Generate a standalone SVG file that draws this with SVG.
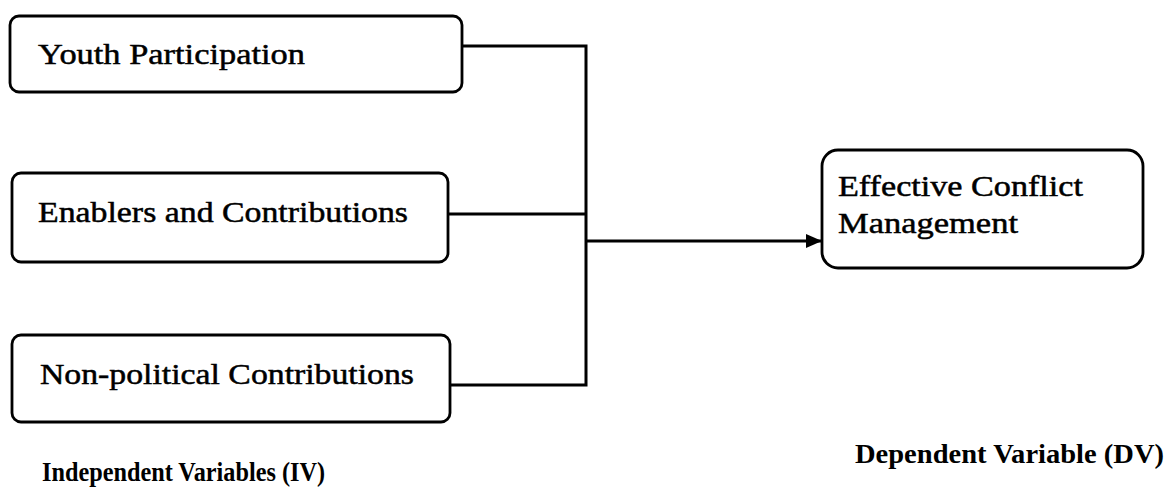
<svg xmlns="http://www.w3.org/2000/svg" width="1176" height="492" viewBox="0 0 1176 492">
<style>
.box{fill:#fff;stroke:#000;stroke-width:2.8}
.t{font-family:"Liberation Serif",serif;font-size:30px;fill:#000;stroke:#000;stroke-width:0.5}
.h{font-family:"Liberation Serif",serif;font-size:28px;font-weight:bold;fill:#000}
.c{fill:none;stroke:#000;stroke-width:3}
</style>
<defs>
<marker id="ah" markerWidth="16" markerHeight="14" refX="15" refY="7" orient="auto" markerUnits="userSpaceOnUse">
<path d="M0,0 L16,7 L0,14 z" fill="#000"/>
</marker>
</defs>
<rect width="1176" height="492" fill="#fff"/>
<g id="connectors">
<path class="c" d="M462,46 H586 M448,214 H586 M450,385 H586 M586,44.5 V386.5"/>
<path class="c" d="M586,241 H821" marker-end="url(#ah)"/>
</g>
<g id="youth">
<rect class="box" x="10" y="16" width="452" height="76" rx="9"/>
<text class="t" x="38" y="64" textLength="267" lengthAdjust="spacingAndGlyphs">Youth Participation</text>
</g>
<g id="enablers">
<rect class="box" x="12" y="173" width="436" height="89" rx="9"/>
<text class="t" x="38" y="222" textLength="370" lengthAdjust="spacingAndGlyphs">Enablers and Contributions</text>
</g>
<g id="nonpolitical">
<rect class="box" x="12" y="335" width="438" height="87" rx="9"/>
<text class="t" x="40" y="384" textLength="374" lengthAdjust="spacingAndGlyphs">Non-political Contributions</text>
</g>
<g id="dv">
<rect class="box" x="822" y="150" width="321" height="118" rx="16"/>
<text class="t" x="838" y="196" textLength="245" lengthAdjust="spacingAndGlyphs">Effective Conflict</text>
<text class="t" x="838" y="233" textLength="180" lengthAdjust="spacingAndGlyphs">Management</text>
</g>
<g id="labels">
<text class="h" x="42" y="481" textLength="283" lengthAdjust="spacingAndGlyphs">Independent Variables (IV)</text>
<text class="h" x="855" y="463" textLength="309" lengthAdjust="spacingAndGlyphs">Dependent Variable (DV)</text>
</g>
</svg>
